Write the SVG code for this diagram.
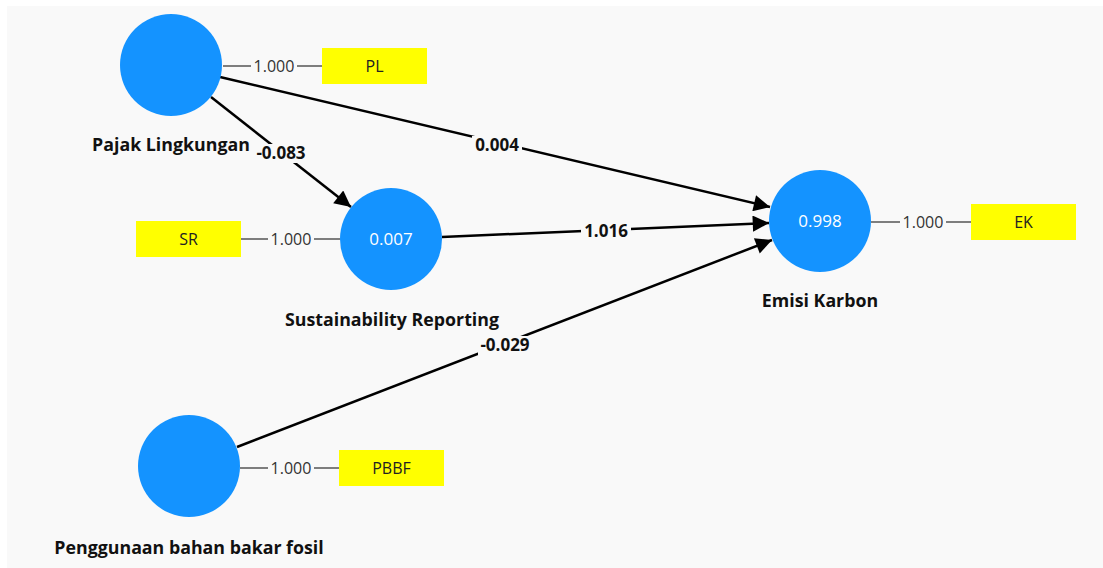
<svg xmlns="http://www.w3.org/2000/svg" width="1103" height="568" viewBox="0 0 1103 568">
<style>
.lv{fill:#1493ff}
.ind{fill:#ffff00}
.ld{stroke:#555;stroke-width:1.5;fill:none}
.path{stroke:#000;stroke-width:2.5;fill:none}
.ldt{font-family:"Open Sans","Noto Sans",sans-serif;font-size:16px;fill:#333;text-anchor:middle}
.pt{font-family:"Open Sans","Noto Sans",sans-serif;font-size:17px;font-weight:bold;fill:#111;text-anchor:middle}
.nt{font-family:"Open Sans","Noto Sans",sans-serif;font-size:17.8px;font-weight:bold;fill:#111;text-anchor:middle}
.it{font-family:"Open Sans","Noto Sans",sans-serif;font-size:16px;fill:#222;text-anchor:middle}
.r2{font-family:"Open Sans","Noto Sans",sans-serif;font-size:17px;fill:#fff;text-anchor:middle}
.bg{fill:#f9f9f9}
</style>
<defs>
<marker id="ah" viewBox="0 0 10 10" refX="10" refY="5" markerWidth="7.5" markerHeight="6.5" markerUnits="strokeWidth" orient="auto">
<path d="M0,0 L10,5 L0,10 z" fill="#000"/>
</marker>
</defs>
<rect x="0" y="0" width="1103" height="568" fill="#fff"/>
<rect x="7" y="6" width="1096" height="562" class="bg"/>
<g id="connectors">
<line class="ld" x1="223" y1="66" x2="322" y2="66"/>
<rect class="bg" x="251" y="57" width="46" height="18"/>
<text class="ldt" x="274" y="72">1.000</text>
<line class="ld" x1="241" y1="239" x2="340" y2="239"/>
<rect class="bg" x="268" y="230" width="46" height="18"/>
<text class="ldt" x="291" y="245">1.000</text>
<line class="ld" x1="871" y1="222" x2="971" y2="222"/>
<rect class="bg" x="900" y="213" width="46" height="18"/>
<text class="ldt" x="923" y="228">1.000</text>
<line class="ld" x1="240" y1="468" x2="339" y2="468"/>
<rect class="bg" x="268" y="459" width="46" height="18"/>
<text class="ldt" x="291" y="474">1.000</text>
<line class="path" x1="220" y1="77" x2="770" y2="207" marker-end="url(#ah)"/>
<line class="path" x1="211" y1="97" x2="351" y2="207" marker-end="url(#ah)"/>
<line class="path" x1="442" y1="237" x2="769" y2="223" marker-end="url(#ah)"/>
<line class="path" x1="237" y1="447" x2="772" y2="240" marker-end="url(#ah)"/>
<rect class="bg" x="472" y="136" width="50" height="19"/>
<text class="pt" x="497" y="151">0.004</text>
<rect class="bg" x="254" y="144" width="54" height="19"/>
<text class="pt" x="281" y="159">-0.083</text>
<rect class="bg" x="581" y="222" width="50" height="19"/>
<text class="pt" x="606" y="237">1.016</text>
<rect class="bg" x="478" y="336" width="54" height="19"/>
<text class="pt" x="505" y="351">-0.029</text>
</g>
<g id="node-pl">
<circle class="lv" cx="171" cy="65" r="51"/>
<text class="nt" x="171" y="151">Pajak Lingkungan</text>
</g>
<g id="node-sr">
<circle class="lv" cx="391" cy="239" r="51"/>
<text class="r2" x="391" y="245">0.007</text>
<text class="nt" x="392" y="326">Sustainability Reporting</text>
</g>
<g id="node-ek">
<circle class="lv" cx="820" cy="221" r="51"/>
<text class="r2" x="820" y="227">0.998</text>
<text class="nt" x="820" y="307">Emisi Karbon</text>
</g>
<g id="node-pbbf">
<circle class="lv" cx="189" cy="466" r="51"/>
<text class="nt" x="189" y="554">Penggunaan bahan bakar fosil</text>
</g>
<g id="ind-pl">
<rect class="ind" x="322" y="48" width="105" height="36"/>
<text class="it" x="374.5" y="72">PL</text>
</g>
<g id="ind-sr">
<rect class="ind" x="136" y="221" width="105" height="36"/>
<text class="it" x="188.5" y="245">SR</text>
</g>
<g id="ind-ek">
<rect class="ind" x="971" y="204" width="105" height="36"/>
<text class="it" x="1023.5" y="228">EK</text>
</g>
<g id="ind-pbbf">
<rect class="ind" x="339" y="450" width="105" height="36"/>
<text class="it" x="391.5" y="474">PBBF</text>
</g>
</svg>
